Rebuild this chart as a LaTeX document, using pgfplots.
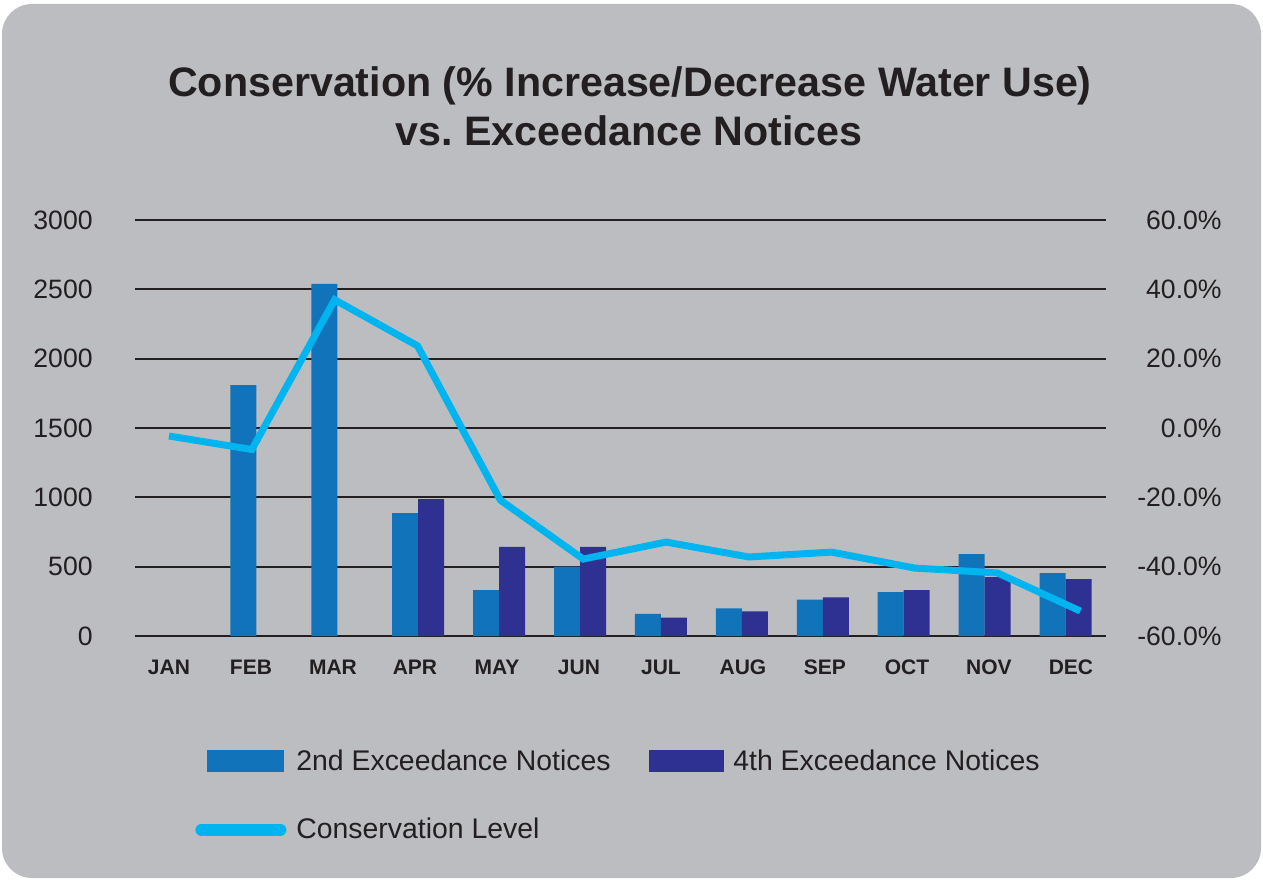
\documentclass[border=0pt]{standalone}
\usepackage{pgfplots}
\pgfplotsset{compat=1.18}
\usepackage{fontspec}
\setmainfont{Liberation Sans}
\definecolor{bg}{HTML}{BCBDC1}
\definecolor{txt}{HTML}{231F20}
\definecolor{c2}{HTML}{1174BB}
\definecolor{c4}{HTML}{2E3192}
\definecolor{lc}{HTML}{00B5EF}
\begin{document}
\begin{tikzpicture}[x=0.5pt,y=0.5pt]
\fill[white] (0,0) rectangle (1263,880);
\fill[bg, rounded corners=15pt] (2,2) rectangle (1261,876);
\node[anchor=base, font=\fontsize{20.6}{24}\selectfont\bfseries, text=txt, inner sep=0pt] at (630,783) {Conservation (\% Increase/Decrease Water Use)};
\node[anchor=base, font=\fontsize{20.6}{24}\selectfont\bfseries, text=txt, inner sep=0pt] at (629,734) {vs.\ Exceedance Notices};

\begin{axis}[
  at={(67.5pt,122pt)}, anchor=south west, scale only axis,
  width=485.5pt, height=208pt,
  xmin=-0.5, xmax=11.5, ymin=0, ymax=3000,
  ytick={0,500,1000,1500,2000,2500,3000},
  yticklabels={0,500,1000,1500,2000,2500,3000},
  xtick={-0.08,0.933,1.947,2.96,3.973,4.987,6.0,7.013,8.027,9.04,10.053,11.067},
  xticklabels={JAN,FEB,MAR,APR,MAY,JUN,JUL,AUG,SEP,OCT,NOV,DEC},
  axis line style={draw=none}, major tick length=0pt,
  ymajorgrids, major grid style={draw=txt, line width=1.1pt},
  ytick pos=left, xtick pos=bottom,
  yticklabel style={font=\fontsize{13.3}{16}\selectfont, text=txt, anchor=east, inner sep=0pt, xshift=-21pt},
  xticklabel style={font=\fontsize{10.5}{12}\selectfont\bfseries, text=txt, anchor=base, inner sep=0pt, yshift=-19pt},
  ybar=0pt, bar width=13pt,
]
\addplot[fill=c2, draw=none] coordinates {(1,1810) (2,2540) (3,887) (4,330) (5,500) (6,160) (7,200) (8,263) (9,316) (10,591) (11,454)};
\addplot[fill=c4, draw=none] coordinates {(3,988) (4,642) (5,642) (6,133) (7,178) (8,278) (9,330) (10,425) (11,411)};
\end{axis}

\begin{axis}[
  at={(67.5pt,122pt)}, anchor=south west, scale only axis,
  width=485.5pt, height=208pt,
  xmin=-0.41, xmax=11.31, ymin=-60, ymax=60,
  ytick={-60,-40,-20,0,20,40,60},
  yticklabels={-60.0\%,-40.0\%,-20.0\%,0.0\%,20.0\%,40.0\%,60.0\%},
  xtick=\empty, axis line style={draw=none}, major tick length=0pt,
  ytick pos=right, yticklabel pos=right,
  yticklabel style={font=\fontsize{13.3}{16}\selectfont, text=txt, anchor=east, inner sep=0pt, xshift=58pt},
  legend columns=2, legend cell align=left,
  legend style={draw=none, fill=none, inner sep=0pt, outer sep=0pt,
    at={(axis description cs:0.0618,-0.2728)}, anchor=north west,
    font=\fontsize{14.2}{16}\selectfont, text=txt, row sep=22.5pt,
    nodes={inner sep=0pt},
    /tikz/every even column/.append style={column sep=19pt},
    /tikz/every odd column/.append style={column sep=5pt}},
]
\addlegendimage{legend image code/.code={\path (0pt,0pt); \fill[c2] (6pt,-5.25pt) rectangle (44pt,5.25pt);}}
\addlegendentry{2nd Exceedance Notices}
\addlegendimage{legend image code/.code={\fill[c4] (0pt,-5.25pt) rectangle (37pt,5.25pt);}}
\addlegendentry{4th Exceedance Notices}
\addplot[color=lc, line width=3.5pt, mark=none,
  legend image code/.code={\draw[lc, line width=6pt, line cap=round] (3pt,0pt) -- (42.5pt,0pt);}]
  coordinates {(0,-2.3) (1,-6.2) (2,37) (3,23.7) (4,-20.8) (5,-37.8) (6,-32.9) (7,-37.2) (8,-35.8) (9,-40.4) (10,-41.8) (11,-52.8)};
\addlegendentry{Conservation Level}
\end{axis}
\end{tikzpicture}
\end{document}
